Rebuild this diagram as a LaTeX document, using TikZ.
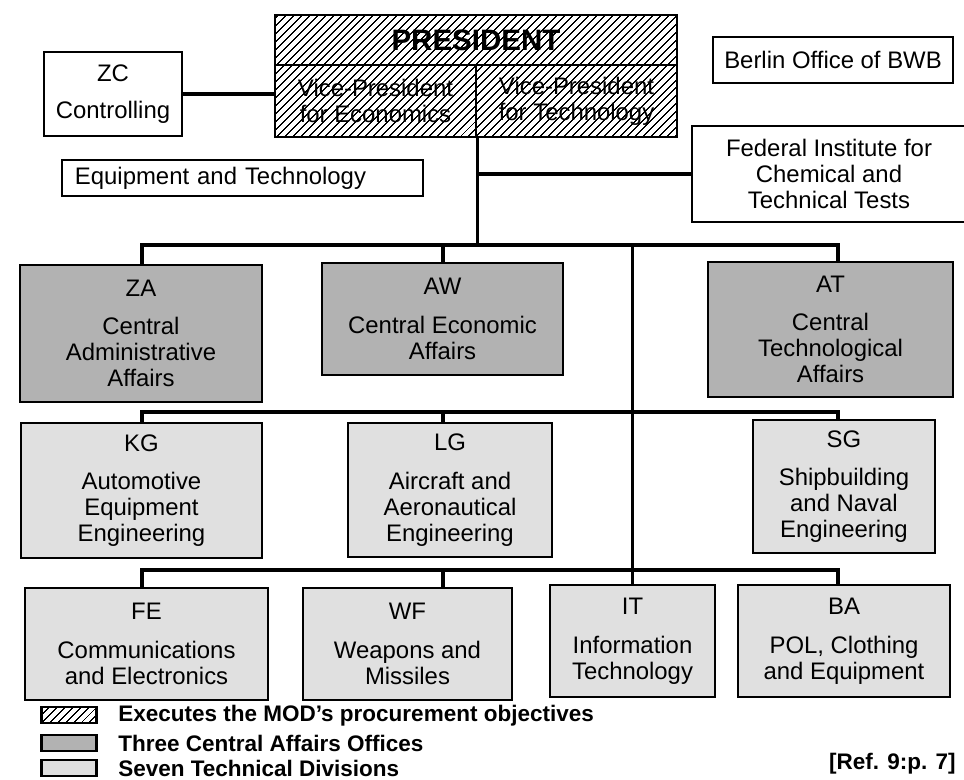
\documentclass[tikz,border=0pt]{standalone}
\usepackage{fontspec}
\setmainfont{Liberation Sans}
\usetikzlibrary{patterns.meta}
\newcommand\orgfont{\fontsize{17}{18.5}\selectfont}
\newcommand\keyfont{\fontsize{16}{18}\selectfont\bfseries}
\begin{document}
\begin{tikzpicture}[x=0.025cm, y=-0.025cm,
  every node/.style={font=\orgfont, align=center, inner sep=0pt},
  boxsize/.style 2 args={minimum width=#1*0.025cm, minimum height=#2*0.025cm},
  box/.style={draw, line width=1.8pt},
  exec/.style={box, pattern={Lines[angle=45,distance=4pt,line width=0.8pt]}},
  office/.style={box, fill=black!30},
  division/.style={box, fill=black!12},
  link/.style={line width=2.4pt}]
  \useasboundingbox (0,0) rectangle (964,780);

  % leadership
  \node[exec, boxsize={402}{50}, font=\fontsize{21}{22}\selectfont\bfseries] (pres) at (476,40) {PRESIDENT};
  \node[exec, boxsize={201}{72}] (vpe) at (375.5,101) {Vice-President\\for Economics};
  \node[exec, boxsize={201}{72}] (vpt) at (576.5,101) {Vice-President\\for Technology};
  \node[box, boxsize={138}{84}] (zc) at (113,94) {ZC\\[8pt]Controlling};
  \node[box, boxsize={240}{46}] (berlin) at (833,60) {Berlin Office of BWB};
  \node[box, boxsize={361}{36}, text width=8.375cm, inner xsep=0.325cm, align=left] (equip) at (242.5,178) {Equipment and Technology};
  \node[box, boxsize={274}{96}] (fed) at (829,174) {Federal Institute for\\Chemical and\\Technical Tests};

  % central affairs offices
  \node[office, boxsize={242}{137}] (ZA) at (141,333.5) {ZA\\[9pt]Central\\Administrative\\Affairs};
  \node[office, boxsize={241}{112}] (AW) at (442.5,319) {AW\\[9pt]Central Economic\\Affairs};
  \node[office, boxsize={245}{135}] (AT) at (830.5,329.5) {AT\\[9pt]Central\\Technological\\Affairs};

  % technical divisions
  \node[division, boxsize={241}{135}] (KG) at (141.5,490.5) {KG\\[9pt]Automotive\\Equipment\\Engineering};
  \node[division, boxsize={204}{134}] (LG) at (450,490) {LG\\[9pt]Aircraft and\\Aeronautical\\Engineering};
  \node[division, boxsize={182}{133}] (SG) at (844,486.5) {SG\\[9pt]Shipbuilding\\and Naval\\Engineering};
  \node[division, boxsize={243}{112}] (FE) at (146.5,644) {FE\\[9pt]Communications\\and Electronics};
  \node[division, boxsize={209}{112}] (WF) at (407.5,644) {WF\\[9pt]Weapons and\\Missiles};
  \node[division, boxsize={165}{112}] (IT) at (632.5,641) {IT\\[9pt]Information\\Technology};
  \node[division, boxsize={212}{112}] (BA) at (844,641) {BA\\[9pt]POL, Clothing\\and Equipment};

  % connectors
  \coordinate (colA) at (142,0);
  \coordinate (colB) at (443,0);
  \coordinate (colD) at (838,0);
  \coordinate (bar1) at (0,245);
  \coordinate (bar2) at (0,412);
  \coordinate (bar3) at (0,570);
  \draw[link] (zc.east) -- (zc.east -| vpe.west);
  \draw[link] (vpe.south east) -- (vpe.south east |- bar1);
  \draw[link] (fed.west) -- (fed.west -| vpe.south east);
  \draw[link] (IT.north) -- (IT.north |- bar1);
  \foreach \b/\l/\m/\r in {bar1/ZA/AW/AT, bar2/KG/LG/SG, bar3/FE/WF/BA} {
    \draw[link] (colA |- \l.north) |- (colD |- \b) -- (colD |- \r.north);
    \draw[link] (colB |- \b) -- (colB |- \m.north);
  }

  % legend
  \node[exec, boxsize={55}{16}] (key1) at (69,715) {};
  \node[office, boxsize={55}{16}] (key2) at (69,743) {};
  \node[division, boxsize={55}{16}] (key3) at (69,768) {};
  \node[font=\keyfont, anchor=west] (txt1) at (118,716) {Executes the MOD's procurement objectives};
  \node[font=\keyfont, anchor=west] (txt2) at (118,743) {Three Central Affairs Offices};
  \node[font=\keyfont, anchor=west] (txt3) at (118,768) {Seven Technical Divisions};
  \node[font=\keyfont, anchor=east] (ref) at (956,764) {[Ref. 9:p. 7]};
\end{tikzpicture}
\end{document}
